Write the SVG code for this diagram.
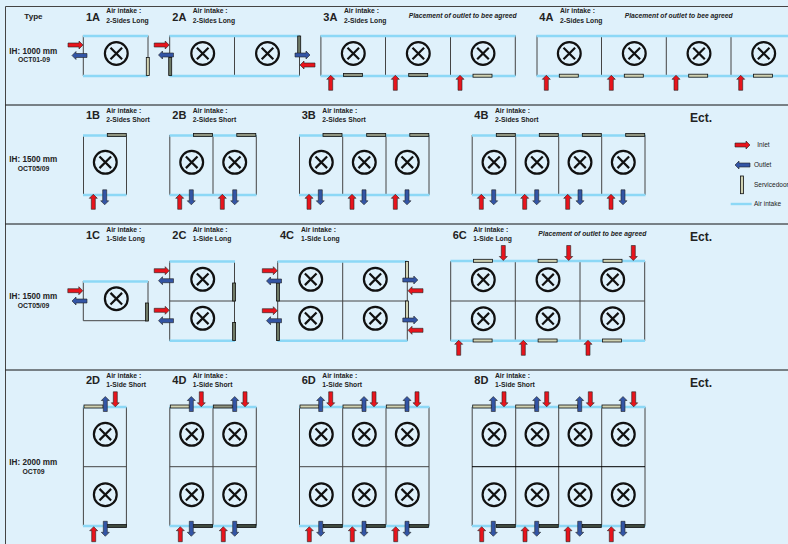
<svg xmlns="http://www.w3.org/2000/svg" width="788" height="544" viewBox="0 0 788 544">
<style>
text{font-family:"Liberation Sans",Arial,sans-serif;fill:#222}
.b{font-weight:bold;font-size:6.75px}
.n{font-weight:bold;font-size:11px}
.p{font-weight:bold;font-style:italic;font-size:6.75px}
.ih{font-weight:bold;font-size:8.15px;text-anchor:middle}
.oc{font-weight:bold;font-size:6.85px;text-anchor:middle}
.e{font-weight:bold;font-size:12px}
.l{font-size:6.5px}
.w{fill:none;stroke:#444;stroke-width:1}
.i{fill:none;stroke:#8cd8f6;stroke-width:2.4}
.a{stroke:#222;stroke-width:.6}
.r{fill:#e8141c}
.u{fill:#3355a5}
.fan{fill:none;stroke:#111;stroke-width:2.2}
.dr{stroke:#111;stroke-width:.8}
</style>
<defs>
<path id="ar" d="M-7.5-2H3.5V-4L7.5 0 3.5 4V2H-7.5Z"/>
<use id="iR" href="#ar" class="a r"/>
<use id="iL" href="#ar" class="a r" transform="rotate(180)"/>
<use id="iU" href="#ar" class="a r" transform="rotate(-90)"/>
<use id="iD" href="#ar" class="a r" transform="rotate(90)"/>
<use id="oR" href="#ar" class="a u"/>
<use id="oL" href="#ar" class="a u" transform="rotate(180)"/>
<use id="oU" href="#ar" class="a u" transform="rotate(-90)"/>
<use id="oD" href="#ar" class="a u" transform="rotate(90)"/>
<g id="fan" class="fan"><circle r="11.4"/><path d="M-5.8-5.8 5.8 5.8M5.8-5.8-5.8 5.8"/></g>
<rect id="hL" width="19" height="3" class="dr" fill="#d0d2b2"/>
<rect id="hM" width="19" height="3" class="dr" fill="#8f9480"/>
<rect id="hD" width="19" height="3" class="dr" fill="#3f4a3e"/>
<rect id="vL" width="3" height="18" class="dr" fill="#d0d2b2"/>
<rect id="vM" width="3" height="18" class="dr" fill="#6f7a66"/>
</defs>
<rect width="788" height="544" fill="#dff1fb"/>
<g id="frame" fill="none" stroke="#111" stroke-width="1">
<path d="M5.5 544V6.5H788" stroke="#444"/>
<path d="M5.5 105H788M5.5 224H788M5.5 370H788"/>
</g>
<g id="row-labels">
<text x="24.3" y="18.7" style="font-weight:bold;font-size:8.1px">Type</text>
<text class="ih" x="33.3" y="54">IH: 1000 mm</text><text class="oc" x="34" y="62.3">OCT01-09</text>
<text class="ih" x="33.3" y="162.3">IH: 1500 mm</text><text class="oc" x="33.5" y="171.3">OCT05/09</text>
<text class="ih" x="33.3" y="298.7">IH: 1500 mm</text><text class="oc" x="33.5" y="307.7">OCT05/09</text>
<text class="ih" x="33.3" y="464.7">IH: 2000 mm</text><text class="oc" x="33.5" y="473.7">OCT09</text>
<text class="e" x="690" y="121.7">Ect.</text><text class="e" x="690" y="240.7">Ect.</text><text class="e" x="690" y="387">Ect.</text>
</g>
<g id="node-1A">
<text class="n" x="86" y="20.7">1A</text><text class="b" x="106.3" y="13.3">Air intake :</text><text class="b" x="106.3" y="22.7">2-Sides Long</text>
<path class="w" d="M83.3 35.5V76M148 35.5V76"/><path class="i" d="M83 36H148M83 76H148"/>
<use href="#fan" x="116.3" y="53.5"/><use href="#vL" x="146.3" y="57.5"/>
</g>
<g id="node-2A">
<text class="n" x="172.3" y="20.7">2A</text><text class="b" x="192.7" y="13.3">Air intake :</text><text class="b" x="192.7" y="22.7">2-Sides Long</text>
<path class="w" d="M169.7 35.5V76M234.5 35.5V76M299.5 35.5V76"/><path class="i" d="M169.5 36H299.5M169.5 76H299.5"/>
<use href="#fan" x="202.7" y="53.5"/><use href="#fan" x="267.5" y="53.5"/>
<use href="#vM" x="168.7" y="57.5"/><use href="#vM" x="297.7" y="36"/>
</g>
<g id="node-3A">
<text class="n" x="323.3" y="20.7">3A</text><text class="b" x="344" y="13.3">Air intake :</text><text class="b" x="344" y="22.7">2-Sides Long</text>
<text class="p" x="408.7" y="18.3">Placement of outlet to bee agreed</text>
<path class="w" d="M320.9 35.5V76M385.5 35.5V76M450.5 35.5V76M515.3 35.5V76"/><path class="i" d="M320.5 36H515.5M320.5 76H515.5"/>
<use href="#fan" x="353.3" y="53.5"/><use href="#fan" x="418.3" y="53.5"/><use href="#fan" x="483" y="53.5"/>
<use href="#hM" x="343.5" y="73.5"/><use href="#hM" x="408.7" y="73.5"/><use href="#hL" x="473" y="74.2"/>
</g>
<g id="node-4A">
<text class="n" x="539.3" y="20.7">4A</text><text class="b" x="560" y="13.3">Air intake :</text><text class="b" x="560" y="22.7">2-Sides Long</text>
<text class="p" x="624.7" y="18.3">Placement of outlet to bee agreed</text>
<path class="w" d="M537 35.5V76M601.5 35.5V76M666.3 35.5V76M731 35.5V76"/><path class="i" d="M536.5 36H788M536.5 76H788"/>
<use href="#fan" x="569.3" y="53.5"/><use href="#fan" x="634.3" y="53.5"/><use href="#fan" x="699" y="53.5"/><use href="#fan" x="763.7" y="53.5"/>
<use href="#hL" x="559.3" y="74.2"/><use href="#hL" x="624.3" y="74.2"/><use href="#hL" x="688.7" y="74.2"/><use href="#hL" x="753.5" y="74.2"/>
</g>
<g id="node-1B">
<text class="n" x="86" y="119.3">1B</text><text class="b" x="106.3" y="112.7">Air intake :</text><text class="b" x="106.3" y="121.7">2-Sides Short</text>
<path class="w" d="M83.5 135V195M126.5 135V195"/><path class="i" d="M83 135.5H126.5M83 195H126.5"/>
<use href="#fan" x="105.3" y="162.3"/><use href="#hM" x="107.3" y="133.4"/>
</g>
<g id="node-2B">
<text class="n" x="172.3" y="119.3">2B</text><text class="b" x="192.7" y="112.7">Air intake :</text><text class="b" x="192.7" y="121.7">2-Sides Short</text>
<path class="w" d="M169.8 135V195M213 135V195M256.3 135V195"/><path class="i" d="M169.5 135.5H256.5M169.5 195H256.5"/>
<use href="#fan" x="191.7" y="162.3"/><use href="#fan" x="234.7" y="162.3"/>
<use href="#hM" x="193.5" y="133.4"/><use href="#hM" x="236.8" y="133.4"/>
</g>
<g id="node-3B">
<text class="n" x="301.7" y="119.3">3B</text><text class="b" x="322.3" y="112.7">Air intake :</text><text class="b" x="322.3" y="121.7">2-Sides Short</text>
<path class="w" d="M299.5 135V195M342.7 135V195M386 135V195M429 135V195"/><path class="i" d="M299 135.5H429.5M299 195H429.5"/>
<use href="#fan" x="321.3" y="162.3"/><use href="#fan" x="364.3" y="162.3"/><use href="#fan" x="407.3" y="162.3"/>
<use href="#hM" x="323" y="133.4"/><use href="#hM" x="366.7" y="133.4"/><use href="#hM" x="409.8" y="133.4"/>
</g>
<g id="node-4B">
<text class="n" x="474.3" y="119.3">4B</text><text class="b" x="495" y="112.7">Air intake :</text><text class="b" x="495" y="121.7">2-Sides Short</text>
<path class="w" d="M472.2 135V195M515.7 135V195M558.7 135V195M601.7 135V195M645 135V195"/><path class="i" d="M472 135.5H645.5M472 195H645.5"/>
<use href="#fan" x="494" y="162.3"/><use href="#fan" x="537" y="162.3"/><use href="#fan" x="580" y="162.3"/><use href="#fan" x="623.3" y="162.3"/>
<use href="#hM" x="496.3" y="133.4"/><use href="#hM" x="539.3" y="133.4"/><use href="#hM" x="582.3" y="133.4"/><use href="#hM" x="625.7" y="133.4"/>
</g>
<g id="node-legend">
<text class="l" x="757.3" y="147.2">Inlet</text><text class="l" x="754" y="167.2">Outlet</text><text class="l" x="754" y="187">Servicedoor</text><text class="l" x="754" y="206.2">Air intake</text>
<path class="i" d="M730.7 204H751.7"/>
<rect x="740.5" y="176" width="3" height="17.7" class="dr" fill="#d0d2b2"/>
</g>
<g id="node-1C">
<text class="n" x="86" y="238.7">1C</text><text class="b" x="106.3" y="231.7">Air intake :</text><text class="b" x="106.3" y="240.7">1-Side Long</text>
<path class="w" d="M83.3 281V320.7H148V281"/><path class="i" d="M83 281.5H148"/>
<use href="#fan" x="116.3" y="298.7"/><use href="#vM" x="145.5" y="303"/>
</g>
<g id="node-2C">
<text class="n" x="172.3" y="238.7">2C</text><text class="b" x="192.7" y="231.7">Air intake :</text><text class="b" x="192.7" y="240.7">1-Side Long</text>
<path class="w" d="M169.7 261V341M234.5 261V341M169.7 301H234.5"/><path class="i" d="M169.5 261.5H235M169.5 340.7H235"/>
<use href="#fan" x="202.7" y="279.3"/><use href="#fan" x="202.7" y="318.3"/>
<use href="#vM" x="232.6" y="283"/><use href="#vM" x="232.6" y="322.4"/>
</g>
<g id="node-4C">
<text class="n" x="280" y="238.7">4C</text><text class="b" x="301" y="231.7">Air intake :</text><text class="b" x="301" y="240.7">1-Side Long</text>
<path class="w" d="M277.7 261V341M342.7 261V341M407.3 261V341M277.7 301H407.3"/><path class="i" d="M277.5 261.5H407.5M277.5 340.7H407.5"/>
<use href="#fan" x="310.7" y="279.3"/><use href="#fan" x="375.3" y="279.3"/><use href="#fan" x="310.7" y="318.3"/><use href="#fan" x="375.3" y="318.3"/>
<use href="#vM" x="276.4" y="283"/><use href="#vM" x="276.4" y="322.4"/><use href="#vL" x="405.5" y="261.5"/><use href="#vL" x="405.5" y="301"/>
</g>
<g id="node-6C">
<text class="n" x="452.7" y="238.7">6C</text><text class="b" x="473.3" y="231.7">Air intake :</text><text class="b" x="473.3" y="240.7">1-Side Long</text>
<text class="p" x="538.3" y="236.3">Placement of outlet to bee agreed</text>
<path class="w" d="M450.7 261V341M515.3 261V341M580 261V341M644.7 261V341M450.7 301H644.7"/><path class="i" d="M450.5 261H645M450.5 340.7H645"/>
<use href="#fan" x="483.3" y="279.7"/><use href="#fan" x="548" y="279.7"/><use href="#fan" x="612.7" y="279.7"/><use href="#fan" x="483.3" y="318.7"/><use href="#fan" x="548" y="318.7"/><use href="#fan" x="612.7" y="318.7"/>
<use href="#hL" x="473.4" y="259.3"/><use href="#hL" x="538.1" y="259.3"/><use href="#hL" x="603" y="259.3"/>
<use href="#hL" x="473.1" y="339"/><use href="#hL" x="538.1" y="339"/><use href="#hL" x="602.5" y="339"/>
</g>
<g id="node-2D">
<text class="n" x="86" y="384.3">2D</text><text class="b" x="106.3" y="377.7">Air intake :</text><text class="b" x="106.3" y="386.7">1-Side Short</text>
<path class="w" d="M83.4 407V526M126.4 407V526M83.4 466.7H126.4"/><path class="i" d="M83 407H126.5M83 526H126.5"/>
<use href="#fan" x="105.3" y="434.3"/><use href="#fan" x="105.3" y="494.7"/>
<use href="#hL" x="84" y="405"/><use href="#hD" x="107.5" y="524.5"/>
</g>
<g id="node-4D">
<text class="n" x="172.3" y="384.3">4D</text><text class="b" x="192.7" y="377.7">Air intake :</text><text class="b" x="192.7" y="386.7">1-Side Short</text>
<path class="w" d="M169.8 407V526M213 407V526M256.3 407V526M169.8 466.7H256.3"/><path class="i" d="M169.5 407H256.5M169.5 526H256.5"/>
<use href="#fan" x="191.7" y="434.3"/><use href="#fan" x="234.7" y="434.3"/><use href="#fan" x="191.7" y="494.7"/><use href="#fan" x="234.7" y="494.7"/>
<use href="#hL" x="170.3" y="405"/><use href="#hM" x="213.3" y="405"/><use href="#hD" x="193.5" y="524.5"/><use href="#hD" x="237" y="524.5"/>
</g>
<g id="node-6D">
<text class="n" x="301.7" y="384.3">6D</text><text class="b" x="322.3" y="377.7">Air intake :</text><text class="b" x="322.3" y="386.7">1-Side Short</text>
<path class="w" d="M299.5 407V526M342.7 407V526M386 407V526M429 407V526M299.5 466.7H429"/><path class="i" d="M299 407H429.5M299 526H429.5"/>
<use href="#fan" x="321.3" y="434.3"/><use href="#fan" x="364.3" y="434.3"/><use href="#fan" x="407.3" y="434.3"/><use href="#fan" x="321.3" y="494.7"/><use href="#fan" x="364.3" y="494.7"/><use href="#fan" x="407.3" y="494.7"/>
<use href="#hL" x="300" y="405"/><use href="#hL" x="343" y="405"/><use href="#hL" x="386.3" y="405"/>
<use href="#hD" x="323.3" y="524.5"/><use href="#hD" x="366.3" y="524.5"/><use href="#hD" x="409.5" y="524.5"/>
</g>
<g id="node-8D">
<text class="n" x="474.3" y="384.3">8D</text><text class="b" x="495" y="377.7">Air intake :</text><text class="b" x="495" y="386.7">1-Side Short</text>
<path class="w" d="M472.2 407V526M515.7 407V526M558.7 407V526M601.7 407V526M645 407V526"/><path d="M472 466.7H645" fill="none" stroke="#000"/><path class="i" d="M472 407H645.5M472 526H645.5"/>
<use href="#fan" x="494" y="434.3"/><use href="#fan" x="537" y="434.3"/><use href="#fan" x="580" y="434.3"/><use href="#fan" x="623.3" y="434.3"/><use href="#fan" x="494" y="494.7"/><use href="#fan" x="537" y="494.7"/><use href="#fan" x="580" y="494.7"/><use href="#fan" x="623.3" y="494.7"/>
<use href="#hL" x="472.7" y="405"/><use href="#hL" x="515.7" y="405"/><use href="#hL" x="558.7" y="405"/><use href="#hL" x="602" y="405"/>
<use href="#hD" x="496.3" y="524.5"/><use href="#hD" x="539.3" y="524.5"/><use href="#hD" x="582.3" y="524.5"/><use href="#hD" x="625.3" y="524.5"/>
</g>
<g id="connectors">
<use href="#iR" x="75.5" y="45"/><use href="#oL" x="79.5" y="55.5"/>
<use href="#iR" x="161.7" y="45"/><use href="#oL" x="166" y="55"/><use href="#oR" x="302.5" y="55"/><use href="#iL" x="307.5" y="65"/>
<use href="#iU" x="330.7" y="82.8"/><use href="#iU" x="395.3" y="82.8"/><use href="#iU" x="460" y="82.8"/>
<use href="#iU" x="546.3" y="82.8"/><use href="#iU" x="611.3" y="82.8"/><use href="#iU" x="676" y="82.8"/><use href="#iU" x="740.7" y="82.8"/>
<use href="#iU" x="93.3" y="201.8"/><use href="#oD" x="104.7" y="197.3"/>
<use href="#iU" x="179.7" y="201.8"/><use href="#oD" x="191.3" y="197.3"/><use href="#iU" x="222.3" y="201.8"/><use href="#oD" x="234.7" y="197.3"/>
<use href="#iU" x="309" y="201.8"/><use href="#oD" x="320.3" y="197.3"/><use href="#iU" x="352" y="201.8"/><use href="#oD" x="364" y="197.3"/><use href="#iU" x="395.3" y="201.8"/><use href="#oD" x="407" y="197.3"/>
<use href="#iU" x="481.3" y="201.8"/><use href="#oD" x="493.7" y="197.3"/><use href="#iU" x="524.7" y="201.8"/><use href="#oD" x="536.7" y="197.3"/><use href="#iU" x="567.7" y="201.8"/><use href="#oD" x="580" y="197.3"/><use href="#iU" x="611" y="201.8"/><use href="#oD" x="623" y="197.3"/>
<use href="#iR" x="742.5" y="145"/><use href="#oL" x="742.5" y="165"/>
<use href="#iR" x="75.3" y="290.7"/><use href="#oL" x="79.5" y="301"/>
<use href="#iR" x="161.7" y="270.7"/><use href="#oL" x="166" y="280.7"/><use href="#iR" x="161.7" y="310.3"/><use href="#oL" x="166" y="320.7"/>
<use href="#iR" x="269.8" y="270.7"/><use href="#oL" x="274" y="281"/><use href="#iR" x="269.8" y="310.7"/><use href="#oL" x="274" y="320.7"/>
<use href="#oR" x="410.3" y="280"/><use href="#iL" x="415.5" y="290.7"/><use href="#oR" x="410.3" y="320"/><use href="#iL" x="415.5" y="330.3"/>
<use href="#iD" x="503.3" y="253"/><use href="#iD" x="568.7" y="253"/><use href="#iD" x="633.3" y="253"/>
<use href="#iU" x="458.7" y="347.8"/><use href="#iU" x="523.3" y="347.8"/><use href="#iU" x="588" y="347.8"/>
<use href="#oU" x="105.3" y="404"/><use href="#iD" x="115.3" y="399.3"/><use href="#oD" x="105.3" y="528.8"/><use href="#iU" x="93.7" y="534.2"/>
<use href="#oU" x="191.3" y="404"/><use href="#iD" x="201.3" y="399.3"/><use href="#oU" x="234.7" y="404"/><use href="#iD" x="245" y="399.3"/>
<use href="#oD" x="191.3" y="528.8"/><use href="#iU" x="180.3" y="534.2"/><use href="#oD" x="234.7" y="528.8"/><use href="#iU" x="223.3" y="534.2"/>
<use href="#oU" x="320.7" y="404"/><use href="#iD" x="330.7" y="399.3"/><use href="#oU" x="364" y="404"/><use href="#iD" x="374" y="399.3"/><use href="#oU" x="407" y="404"/><use href="#iD" x="417" y="399.3"/>
<use href="#oD" x="320.7" y="528.8"/><use href="#iU" x="309.3" y="534.2"/><use href="#oD" x="364" y="528.8"/><use href="#iU" x="352.3" y="534.2"/><use href="#oD" x="407" y="528.8"/><use href="#iU" x="395.7" y="534.2"/>
<use href="#oU" x="493.3" y="404"/><use href="#iD" x="504" y="399.3"/><use href="#oU" x="536.7" y="404"/><use href="#iD" x="546.7" y="399.3"/><use href="#oU" x="579.7" y="404"/><use href="#iD" x="590.3" y="399.3"/><use href="#oU" x="623" y="404"/><use href="#iD" x="633.7" y="399.3"/>
<use href="#oD" x="493.3" y="528.8"/><use href="#iU" x="481.7" y="534.2"/><use href="#oD" x="536.7" y="528.8"/><use href="#iU" x="525" y="534.2"/><use href="#oD" x="579.7" y="528.8"/><use href="#iU" x="568" y="534.2"/><use href="#oD" x="623" y="528.8"/><use href="#iU" x="611.3" y="534.2"/>
</g>
</svg>
